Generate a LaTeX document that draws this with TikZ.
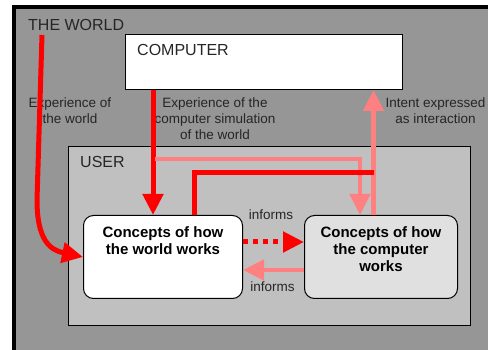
\documentclass[tikz,border=0pt]{standalone}
\usepackage{fontspec}
\setmainfont{Liberation Sans}
\usetikzlibrary{arrows.meta}
\definecolor{worldgray}{HTML}{969696}
\definecolor{usergray}{HTML}{C0C0C0}
\definecolor{compgray}{HTML}{E0E0E0}
\definecolor{pinkred}{HTML}{FF8080}
\begin{document}
\begin{tikzpicture}[x=1pt,y=-1pt,
  box/.style={draw=black, line width=1pt, inner sep=0pt, anchor=north west},
  concept/.style={draw=black, line width=1pt, rounded corners=10pt, inner sep=0pt, anchor=north west},
  title/.style={font=\fontsize{16}{19}\selectfont, inner sep=0pt, anchor=base west, text=black!85},
  lab/.style={font=\fontsize{13.5}{16}\selectfont, inner sep=0pt, align=center, anchor=north, text=black!85},
  ctext/.style={font=\fontsize{15}{17}\selectfont\bfseries, inner sep=0pt, align=center, anchor=north},
  redline/.style={draw=red, line width=5pt},
  pinkline/.style={draw=pinkred, line width=4.5pt},
  tip/.style={-{Triangle[length=21pt,width=20pt]}},
]
\useasboundingbox (0,0) rectangle (488,350);
\fill[white] (0,0) rectangle (488,350);
\fill[black] (12,5) rectangle (488,350);
\fill[worldgray] (16,9) rectangle (488,350);

\node[box, fill=white, minimum width=277pt, minimum height=55pt] (comp) at (125,34) {};
\node[box, fill=usergray, line width=1.2pt, minimum width=402pt, minimum height=179pt] (user) at (68,146) {};
\node[concept, fill=white, minimum width=159pt, minimum height=83pt] (wn) at (83,215) {};
\node[concept, fill=compgray, minimum width=153pt, minimum height=83pt] (cn) at (304,215) {};

\node[title] (worldlbl) at (28,31) {THE WORLD};
\node[title] (complbl) at (137,56) {COMPUTER};
\node[title] (userlbl) at (80,168) {USER};
\node[ctext] (wntext) at (wn.north |- 0,226) {Concepts of how\\the world works};
\node[ctext] (cntext) at (cn.north |- 0,226) {Concepts of how\\the computer\\works};
\node[lab] (l1) at (70,98) {Experience of\\the world};
\node[lab] (l2) at (215,98) {Experience of the\\computer simulation\\of the world};
\node[lab] (l3) at (435.5,98) {Intent expressed\\as interaction};
\node[lab, anchor=base] (inf1) at (271,220) {informs};
\node[lab, anchor=base] (inf2) at (272.5,291) {informs};

\coordinate (ws) at (42,35);
\draw[redline, tip] (ws) -- (37,200) .. controls (37,240) and (50,250) .. (wn.west);
\draw[redline, tip] (comp.south -| 153,0) -- (wn.north -| 153,0);
\coordinate (ps) at (155,159);
\draw[pinkline, tip] (ps) -- (360,159) -- (cn.north -| 360,0);
\draw[pinkline, tip] (cn.north -| 373.5,0) -- (comp.south -| 373.5,0);
\coordinate (re) at (373.5,172.5);
\draw[redline] (wn.north -| 194,0) -- (194,172.5) -- (re);
\draw[redline, dash pattern=on 5pt off 5pt, tip] (wn.east |- 0,242) -- (cn.west |- 0,242);
\draw[pinkline, tip] (cn.west |- 0,270) -- (wn.east |- 0,270);
\end{tikzpicture}
\end{document}
